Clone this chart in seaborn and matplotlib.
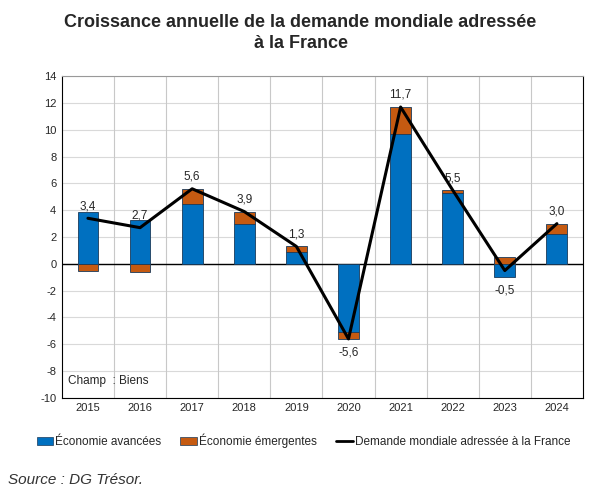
import numpy as np
import pandas as pd
import seaborn as sns
import matplotlib
matplotlib.use("Agg")
import matplotlib.pyplot as plt
from matplotlib.patches import Patch
from matplotlib.lines import Line2D

# données
annees = ["2015", "2016", "2017", "2018", "2019", "2020", "2021", "2022", "2023", "2024"]
avancees = [3.9, 3.3, 4.5, 3.0, 0.9, -5.1, 9.7, 5.3, -1.0, 2.2]
emergentes = [-0.5, -0.6, 1.1, 0.9, 0.4, -0.5, 2.0, 0.2, 0.5, 0.8]
demande = [3.4, 2.7, 5.6, 3.9, 1.3, -5.6, 11.7, 5.5, -0.5, 3.0]
etiquettes = ["3,4", "2,7", "5,6", "3,9", "1,3", "-5,6", "11,7", "5,5", "-0,5", "3,0"]

bleu = "#0070C0"
orange = "#C55A11"

sns.set_style("white")
plt.rcParams['font.family'] = ['Liberation Sans', 'DejaVu Sans']
plt.rcParams['axes.unicode_minus'] = False

df = pd.DataFrame({"annee": annees, "avancees": avancees, "emergentes": emergentes, "demande": demande})

fig = plt.figure(figsize=(6.01, 4.98), dpi=100)
ax = fig.add_axes([0.103, 0.201, 0.867, 0.646])

sns.barplot(data=df, x="annee", y="avancees", color=bleu, saturation=1, width=0.4,
            edgecolor="#1a3a5a", linewidth=0.6, ax=ax, zorder=3)
# empilement de la part émergente
base = [a if (a >= 0) == (e >= 0) else 0 for a, e in zip(avancees, emergentes)]
ax.bar(np.arange(len(annees)), emergentes, bottom=base, width=0.4, color=orange,
       edgecolor="#1a3a5a", linewidth=0.6, zorder=3)
sns.lineplot(x=np.arange(len(annees)), y=demande, color="black", linewidth=2.2, ax=ax, zorder=4)

for i, (v, t) in enumerate(zip(demande, etiquettes)):
    if v >= 0:
        ax.text(i, v + 0.45, t, ha="center", va="bottom", fontsize=8.5)
    else:
        bas = min(v, min(avancees[i], 0) + min(emergentes[i], 0))
        ax.text(i, bas - 0.55, t, ha="center", va="top", fontsize=8.5)

ax.set_ylim(-10, 14)
ax.set_yticks(np.arange(-10, 15, 2))
ax.set_xlim(-0.5, 9.5)
ax.set_xlabel("")
ax.set_ylabel("")
ax.tick_params(axis="both", labelsize=8, length=0, pad=4)
ax.set_xticks(np.arange(len(annees)))
ax.set_xticklabels(annees)

# grille
for yy in np.arange(-10, 15, 2):
    ax.axhline(yy, color="#d9d9d9", linewidth=0.8, zorder=0)
for xx in np.arange(0.5, 9.5, 1):
    ax.axvline(xx, color="#c8c8c8", linewidth=0.8, zorder=0)
ax.axhline(0, color="black", linewidth=1.0, zorder=2)

for s in ["left", "bottom", "right"]:
    ax.spines[s].set_color("black")
    ax.spines[s].set_linewidth(0.8)
ax.spines["top"].set_color("#999999")
ax.spines["top"].set_linewidth(0.8)

ax.text(0.012, 0.035, "Champ  : Biens", transform=ax.transAxes, fontsize=8.5, ha="left", va="bottom")

fig.text(0.5, 0.972, "Croissance annuelle de la demande mondiale adressée\nà la France",
         ha="center", va="top", fontsize=13, fontweight="bold", linespacing=1.3)

handles = [Patch(facecolor=bleu, edgecolor="#1a3a5a", linewidth=0.5),
           Patch(facecolor=orange, edgecolor="#1a3a5a", linewidth=0.5),
           Line2D([0], [0], color="black", linewidth=2)]
labels = ["Économie avancées", "Économie émergentes", "Demande mondiale adressée à la France"]
fig.legend(handles, labels, loc="center", bbox_to_anchor=(0.505, 0.114), ncol=3, frameon=False,
           fontsize=8.5, handlelength=1.4, handleheight=0.7, handletextpad=0.2, columnspacing=1.6)

fig.text(0.013, 0.036, "Source : DG Trésor.", ha="left", va="center", fontsize=11,
         style="italic", color="#333333")

fig.savefig("out.png", dpi=100)
